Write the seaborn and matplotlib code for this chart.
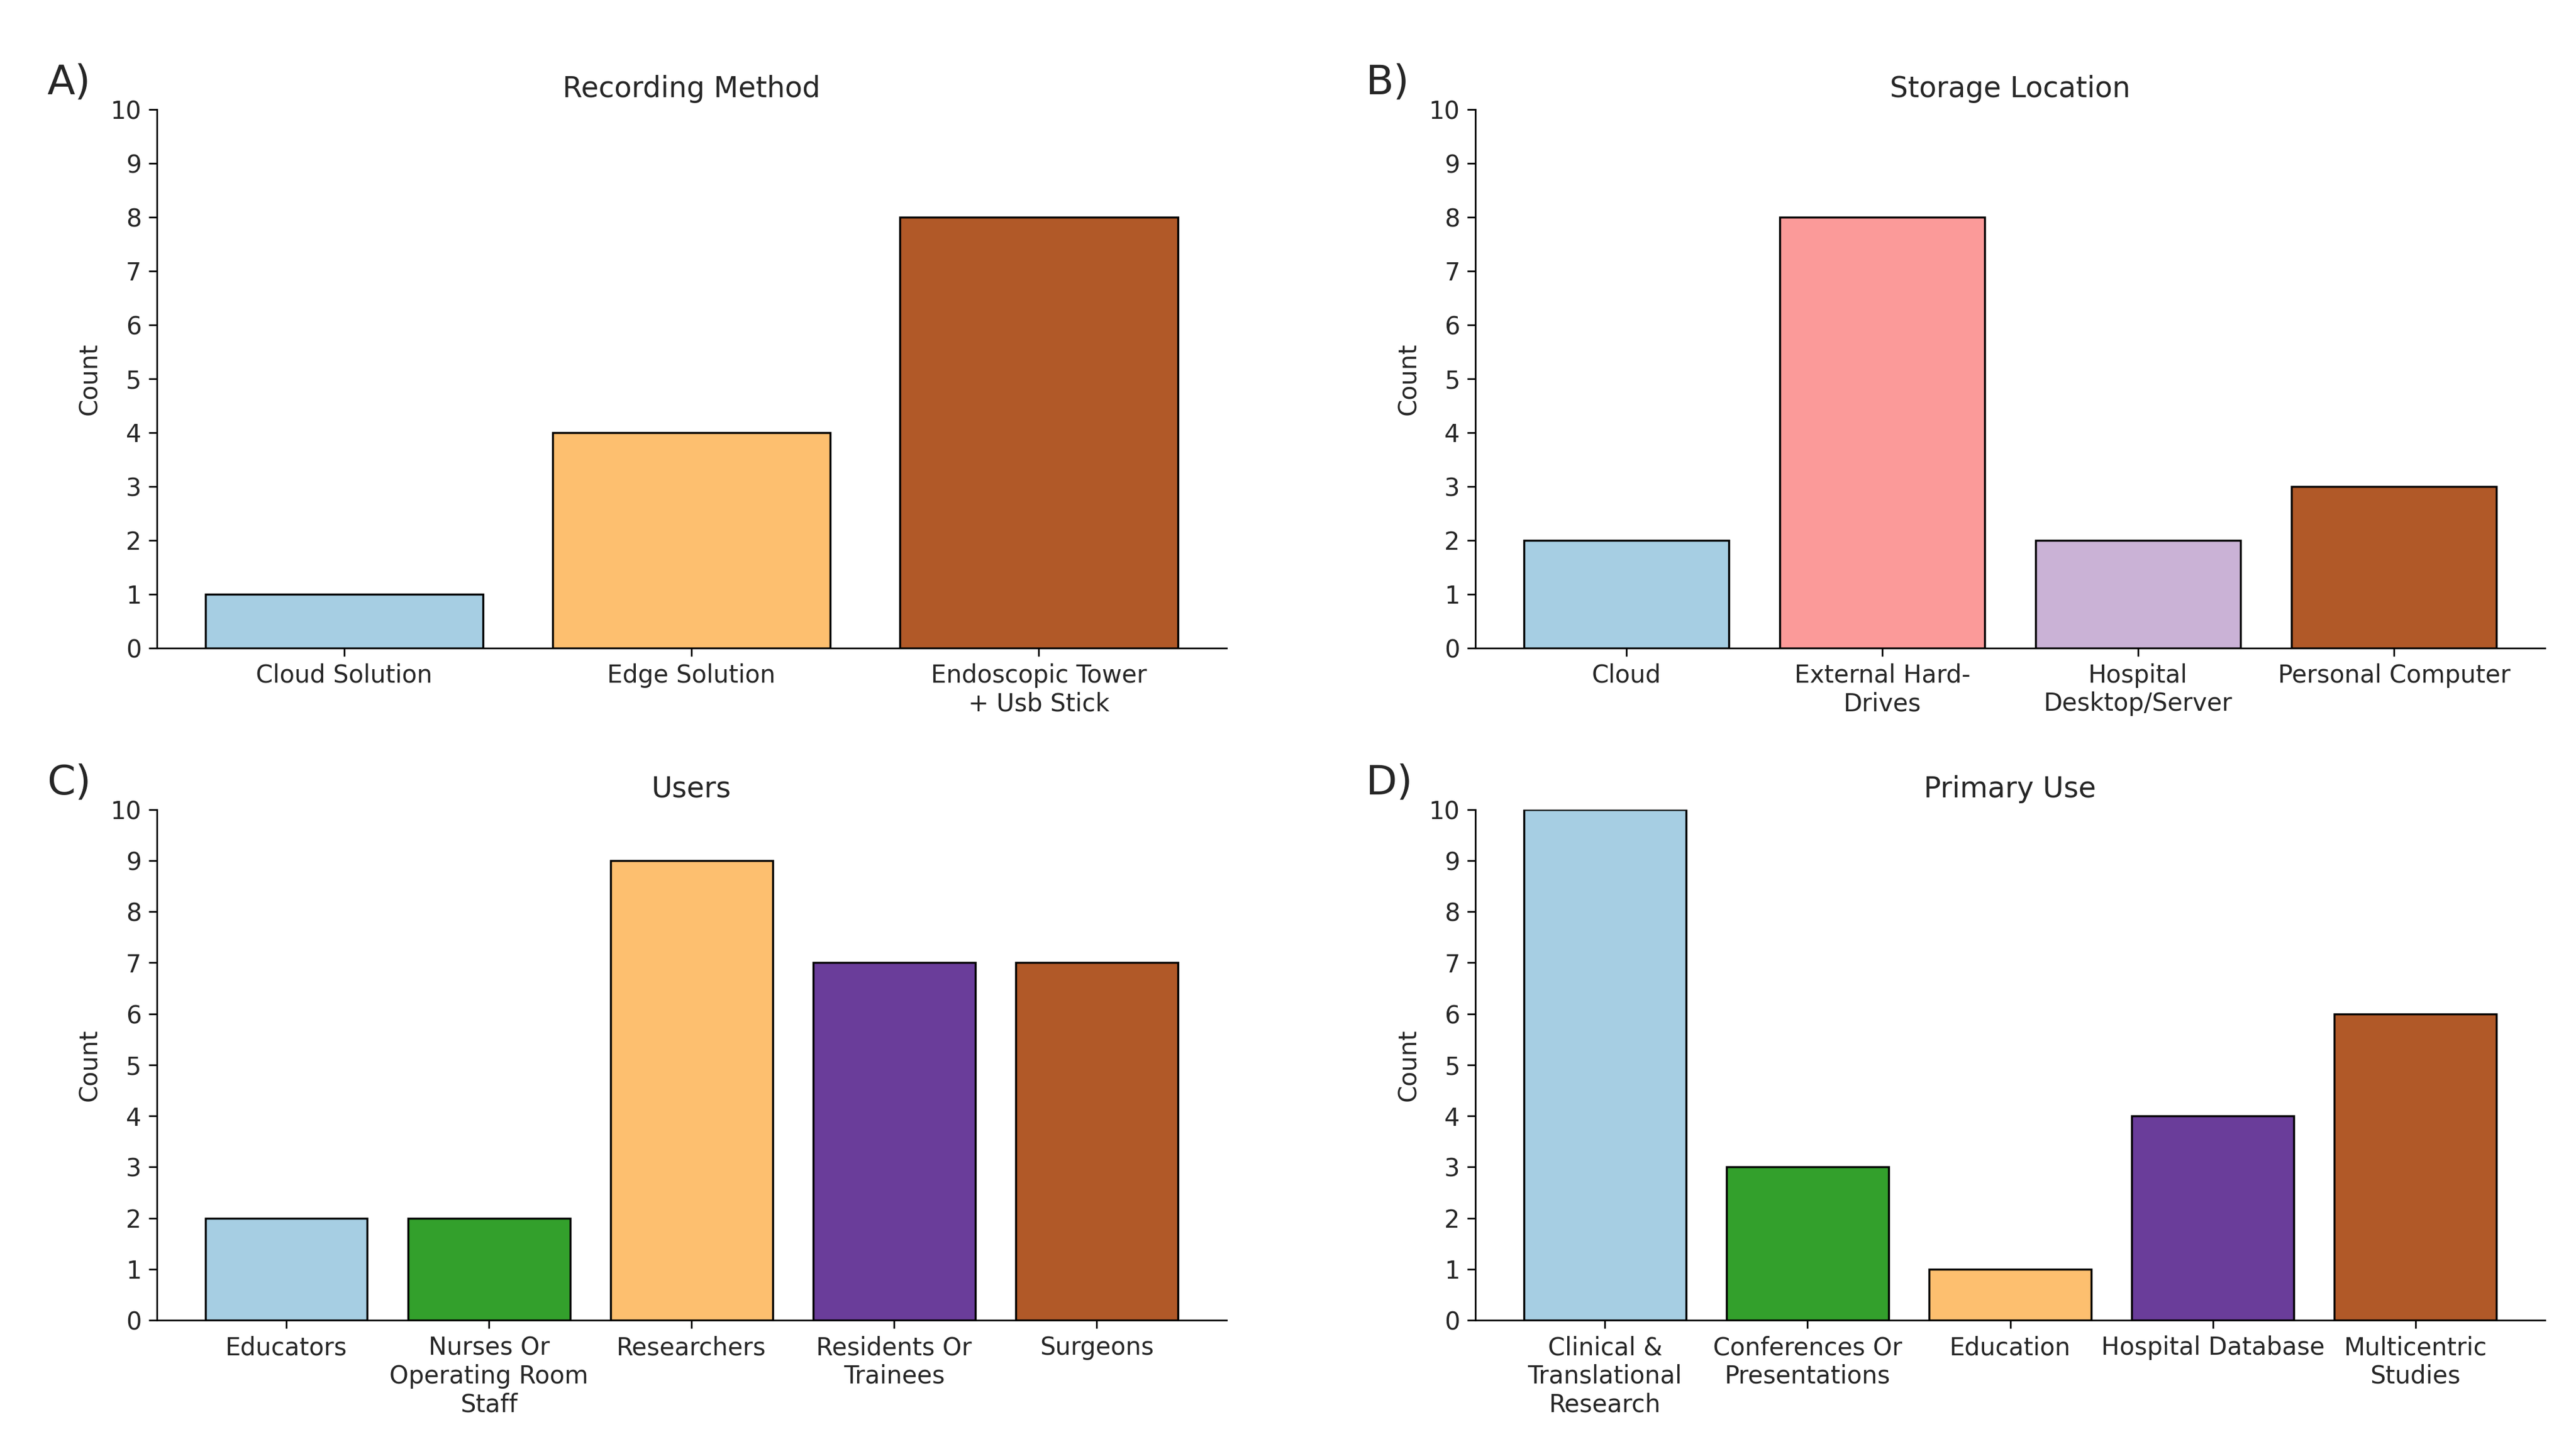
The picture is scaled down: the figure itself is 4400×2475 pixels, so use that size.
import matplotlib
matplotlib.use("Agg")
import matplotlib.pyplot as plt
import seaborn as sns
import pandas as pd

# ---- data ----
rec_labels = ["Cloud Solution", "Edge Solution", "Endoscopic Tower\n+ Usb Stick"]
rec_counts = [1, 4, 8]
rec_colors = ["#a6cee3", "#fdbf6f", "#b15928"]

sto_labels = ["Cloud", "External Hard-\nDrives", "Hospital\nDesktop/Server", "Personal Computer"]
sto_counts = [2, 8, 2, 3]
sto_colors = ["#a6cee3", "#fb9a99", "#cab2d6", "#b15928"]

usr_labels = ["Educators", "Nurses Or\nOperating Room\nStaff", "Researchers", "Residents Or\nTrainees", "Surgeons"]
usr_counts = [2, 2, 9, 7, 7]
usr_colors = ["#a6cee3", "#33a02c", "#fdbf6f", "#6a3d9a", "#b15928"]

use_labels = ["Clinical &\nTranslational\nResearch", "Conferences Or\nPresentations", "Education",
              "Hospital Database", "Multicentric\nStudies"]
use_counts = [10, 3, 1, 4, 6]
use_colors = ["#a6cee3", "#33a02c", "#fdbf6f", "#6a3d9a", "#b15928"]

titles = ["Recording Method", "Storage Location", "Users", "Primary Use"]
panel_letters = ["A)", "B)", "C)", "D)"]
y_ticks = list(range(0, 11))

sns.set_style("white")
plt.rcParams["font.family"] = ["DejaVu Sans"]

fig = plt.figure(figsize=(17.6, 9.9), dpi=250)
gs = fig.add_gridspec(2, 2, height_ratios=[920, 872], left=0.0608, right=0.988,
                      top=0.9246, bottom=0.0889, wspace=0.2326, hspace=0.308)

panels = [
    (rec_labels, rec_counts, rec_colors),
    (sto_labels, sto_counts, sto_colors),
    (usr_labels, usr_counts, usr_colors),
    (use_labels, use_counts, use_colors),
]

for i, (labels, counts, colors) in enumerate(panels):
    ax = fig.add_subplot(gs[i // 2, i % 2])
    df = pd.DataFrame({"cat": labels, "count": counts})
    sns.barplot(data=df, x="cat", y="count", hue="cat", palette=colors, legend=False,
                edgecolor="black", linewidth=1.0, saturation=1, width=0.8, ax=ax)
    n = len(labels)
    span = (n - 1) + 0.8
    ax.set_xlim(-0.4 - 0.05 * span, n - 1 + 0.4 + 0.05 * span)
    ax.set_ylim(0, 10)
    ax.set_yticks(y_ticks)
    ax.tick_params(axis="both", labelsize=12, length=4, width=0.8, color="black",
                   left=True, bottom=True)
    ax.set_xlabel("")
    ax.set_ylabel("Count", fontsize=12)
    ax.set_title(titles[i], fontsize=14)
    for s in ["top", "right"]:
        ax.spines[s].set_visible(False)
    for s in ["left", "bottom"]:
        ax.spines[s].set_color("black")
        ax.spines[s].set_linewidth(0.8)
    ax.annotate(panel_letters[i], xy=(0, 1), xycoords="axes fraction",
                xytext=(-54, 7.5), textcoords="offset points",
                ha="left", va="baseline", fontsize=20)

fig.savefig("out.png", dpi=250, facecolor="white")
